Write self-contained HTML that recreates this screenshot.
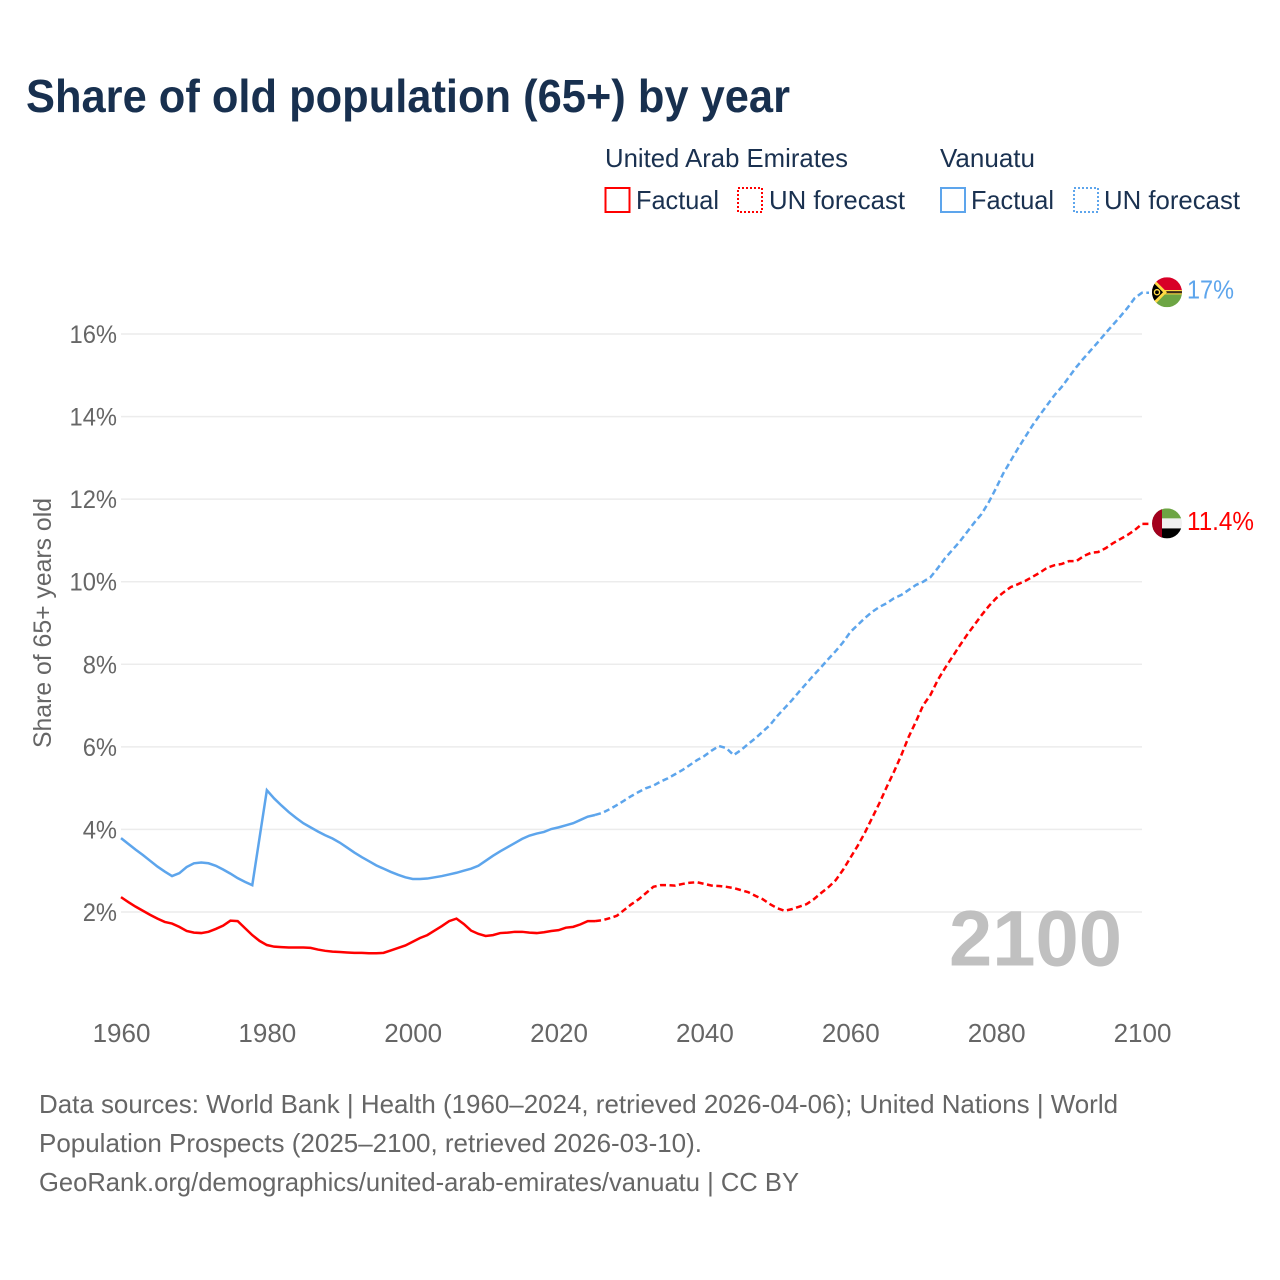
<!DOCTYPE html>
<html lang="en">
<head>
<meta charset="utf-8">
<title>Share of old population (65+) by year</title>
<style>
html,body{margin:0;padding:0;background:#fff;}
svg{display:block;font-family:"Liberation Sans",sans-serif;}
.tick{font-size:25px;fill:#666;}
.legend{font-size:26px;fill:#1a3150;}
.source{font-size:26px;fill:#666;}
</style>
</head>
<body>
<svg id="chart" width="1280" height="1280" viewBox="0 0 1280 1280" xmlns="http://www.w3.org/2000/svg">
  <defs>
    <clipPath id="flag-clip"><circle cx="0" cy="0" r="15"></circle></clipPath>
  </defs>
  <rect x="0" y="0" width="1280" height="1280" fill="#fff"></rect>

  <text x="26" y="112" font-size="46" font-weight="bold" fill="#18304f" textLength="764" lengthAdjust="spacingAndGlyphs">Share of old population (65+) by year</text>

  <g>
    <text class="legend" x="605" y="167" textLength="243" lengthAdjust="spacingAndGlyphs">United Arab Emirates</text>
    <text class="legend" x="940" y="167" textLength="95" lengthAdjust="spacingAndGlyphs">Vanuatu</text>

    <g>
      <rect x="605.5" y="188" width="24" height="24" fill="none" stroke="#ff0000" stroke-width="2"></rect>
      <text class="legend" x="636" y="209" textLength="83" lengthAdjust="spacingAndGlyphs">Factual</text>
    </g>
    <g>
      <rect x="738" y="188" width="24" height="24" fill="none" stroke="#ff0000" stroke-width="2" stroke-dasharray="2 2"></rect>
      <text class="legend" x="769" y="209" textLength="136" lengthAdjust="spacingAndGlyphs">UN forecast</text>
    </g>
    <g>
      <rect x="941" y="188" width="24" height="24" fill="none" stroke="#5da5ec" stroke-width="2"></rect>
      <text class="legend" x="971" y="209" textLength="83" lengthAdjust="spacingAndGlyphs">Factual</text>
    </g>
    <g>
      <rect x="1074" y="188" width="24" height="24" fill="none" stroke="#5da5ec" stroke-width="2" stroke-dasharray="2 2"></rect>
      <text class="legend" x="1104" y="209" textLength="136" lengthAdjust="spacingAndGlyphs">UN forecast</text>
    </g>
  </g>

  <text transform="translate(51,623) rotate(-90)" text-anchor="middle" font-size="25" fill="#666" textLength="250" lengthAdjust="spacingAndGlyphs">Share of 65+ years old</text>

  <g id="grid"></g>
  <g id="y-ticks"></g>
  <g id="x-ticks"></g>

  <text x="949" y="965.5" font-size="79" font-weight="bold" fill="#c0c0c0" textLength="173" lengthAdjust="spacingAndGlyphs">2100</text>

  <g id="series"></g>

  <g id="flag-vanuatu">
    <g clip-path="url(#flag-clip)">
      <rect x="-15" y="-15" width="30" height="15" fill="#d80027"></rect>
      <rect x="-15" y="0" width="30" height="15" fill="#6da544"></rect>
      <rect x="-15" y="-2.2" width="30" height="4.4" fill="#ffda44"></rect>
      <rect x="-15" y="-1.1" width="30" height="2.2" fill="#3a2a1a"></rect>
      <polygon points="-15,-15 0,0 -15,15" fill="#ffda44"></polygon>
      <polygon points="-15,-11 -4,0 -15,11" fill="#000"></polygon>
      <circle cx="-10" cy="0" r="2.6" fill="none" stroke="#ffda44" stroke-width="1.4"></circle>
    </g>
  </g>
  <g id="flag-uae">
    <g clip-path="url(#flag-clip)">
      <rect x="-15" y="-15" width="30" height="10" fill="#6da544"></rect>
      <rect x="-15" y="-5" width="30" height="10" fill="#f0f0f0"></rect>
      <rect x="-15" y="5" width="30" height="10" fill="#000"></rect>
      <rect x="-15" y="-15" width="10" height="30" fill="#a2001d"></rect>
    </g>
  </g>

  <text id="label-vanuatu" font-size="26" fill="#5da5ec" textLength="47" lengthAdjust="spacingAndGlyphs">17%</text>
  <text id="label-uae" font-size="26" fill="#ff0000" textLength="67" lengthAdjust="spacingAndGlyphs">11.4%</text>

  <g>
    <text class="source" x="39" y="1113" textLength="1079" lengthAdjust="spacingAndGlyphs">Data sources: World Bank | Health (1960–2024, retrieved 2026-04-06); United Nations | World</text>
    <text class="source" x="39" y="1152" textLength="663" lengthAdjust="spacingAndGlyphs">Population Prospects (2025–2100, retrieved 2026-03-10).</text>
    <text class="source" x="39" y="1191" textLength="760" lengthAdjust="spacingAndGlyphs">GeoRank.org/demographics/united-arab-emirates/vanuatu | CC BY</text>
  </g>
</svg>

<script>
var xTickLabels = ['1960','1980','2000','2020','2040','2060','2080','2100'];
var yTickLabels = ['2%','4%','6%','8%','10%','12%','14%','16%'];
var yTickValues = [2,4,6,8,10,12,14,16];
var firstYear = 1960;
var lastYear = 2100;
var lastFactualYear = 2025;
var endValueVanuatu = 17;
var endValueUae = 11.4;

var uaeValues = [
2.36,2.24,2.13,2.03,1.93,1.84,1.76,1.72,1.64,1.54,
1.50,1.49,1.52,1.59,1.67,1.79,1.78,1.61,1.44,1.30,
1.20,1.16,1.15,1.14,1.14,1.14,1.13,1.09,1.06,1.04,
1.03,1.02,1.01,1.01,1.00,1.00,1.01,1.07,1.13,1.19,
1.28,1.37,1.44,1.55,1.66,1.78,1.84,1.71,1.55,1.47,
1.42,1.44,1.49,1.50,1.52,1.52,1.50,1.49,1.51,1.54,
1.56,1.62,1.64,1.70,1.78,1.78,1.80,1.85,1.91,2.05,
2.19,2.31,2.46,2.61,2.65,2.65,2.64,2.68,2.71,2.72,
2.68,2.64,2.63,2.61,2.58,2.53,2.48,2.39,2.31,2.19,
2.09,2.03,2.07,2.13,2.19,2.31,2.46,2.60,2.77,3.02,
3.31,3.60,3.92,4.28,4.64,5.03,5.40,5.80,6.24,6.61,
7.01,7.26,7.62,7.91,8.18,8.45,8.71,8.95,9.19,9.41,
9.60,9.74,9.87,9.94,10.02,10.12,10.22,10.34,10.40,10.43,
10.50,10.50,10.62,10.70,10.72,10.81,10.93,11.03,11.13,11.25,
11.40
];

var vanuatuValues = [
3.79,3.65,3.51,3.38,3.24,3.10,2.98,2.87,2.94,3.09,
3.18,3.20,3.18,3.12,3.03,2.93,2.82,2.73,2.65,3.80,
4.95,4.75,4.58,4.42,4.28,4.15,4.05,3.95,3.86,3.78,
3.68,3.56,3.44,3.33,3.23,3.13,3.05,2.97,2.90,2.84,
2.80,2.80,2.81,2.84,2.87,2.91,2.95,3.00,3.05,3.12,
3.24,3.36,3.47,3.57,3.67,3.77,3.85,3.90,3.94,4.01,
4.05,4.10,4.15,4.23,4.31,4.35,4.40,4.49,4.59,4.70,
4.81,4.91,5.00,5.06,5.16,5.24,5.34,5.44,5.56,5.68,
5.78,5.91,6.02,5.97,5.80,5.92,6.07,6.21,6.37,6.53,
6.75,6.94,7.13,7.34,7.54,7.74,7.93,8.13,8.32,8.53,
8.78,8.95,9.12,9.27,9.39,9.48,9.60,9.68,9.80,9.92,
10.00,10.11,10.33,10.57,10.77,10.97,11.20,11.43,11.64,11.93,
12.27,12.63,12.93,13.23,13.51,13.79,14.04,14.28,14.52,14.72,
14.96,15.20,15.41,15.61,15.81,16.02,16.22,16.42,16.63,16.87,
17.00
];

var SVG_NS = 'http://www.w3.org/2000/svg';

function xScale(year) {
  return 121 + (year - 1960) * (1142 - 121) / 140;
}
function yScale(value) {
  return 912 - (value - 2) * (912 - 334) / 14;
}
function make(tag, parent) {
  var el = document.createElementNS(SVG_NS, tag);
  parent.appendChild(el);
  return el;
}
function linePath(values, fromYear, toYear) {
  var d = '';
  for (var year = fromYear; year <= toYear; year++) {
    var v = values[year - firstYear];
    d += (d ? 'L' : 'M') + xScale(year).toFixed(2) + ' ' + yScale(v).toFixed(2);
  }
  return d;
}

var gridGroup = document.getElementById('grid');
var yTickGroup = document.getElementById('y-ticks');
yTickValues.forEach(function (value, i) {
  var line = make('line', gridGroup);
  
  
  line.setAttribute('x1', xScale(firstYear));
  line.setAttribute('x2', xScale(lastYear));
  line.setAttribute('y1', yScale(value));
  line.setAttribute('y2', yScale(value));
  line.setAttribute('stroke', '#ececec');
  line.setAttribute('stroke-width', '1.5');

  var label = make('text', yTickGroup);
  
  
  label.setAttribute('class', 'tick');
  label.setAttribute('x', 117);
  label.setAttribute('y', yScale(value) + 9);
  label.setAttribute('text-anchor', 'end');
  label.textContent = yTickLabels[i];
  label.setAttribute('textLength', (label.getComputedTextLength() * 0.95).toFixed(1));
  label.setAttribute('lengthAdjust', 'spacingAndGlyphs');
});

var xTickGroup = document.getElementById('x-ticks');
xTickLabels.forEach(function (text) {
  var label = make('text', xTickGroup);
  
  
  label.setAttribute('class', 'tick');
  label.setAttribute('x', xScale(Number(text)) + 0.5);
  label.setAttribute('y', 1042);
  label.setAttribute('text-anchor', 'middle');
  label.style.fontSize = '26px';
  label.textContent = text;
});

var seriesGroup = document.getElementById('series');

var uaeFactual = make('path', seriesGroup);


uaeFactual.setAttribute('d', linePath(uaeValues, firstYear, lastFactualYear));
uaeFactual.setAttribute('fill', 'none');
uaeFactual.setAttribute('stroke', '#ff0000');
uaeFactual.setAttribute('stroke-width', '2.5');

var uaeForecast = make('path', seriesGroup);


uaeForecast.setAttribute('d', linePath(uaeValues, lastFactualYear, lastYear) + 'h7');
uaeForecast.setAttribute('fill', 'none');
uaeForecast.setAttribute('stroke', '#ff0000');
uaeForecast.setAttribute('stroke-width', '2.5');
uaeForecast.setAttribute('stroke-dasharray', '6 3.5');

var vanuatuFactual = make('path', seriesGroup);


vanuatuFactual.setAttribute('d', linePath(vanuatuValues, firstYear, lastFactualYear));
vanuatuFactual.setAttribute('fill', 'none');
vanuatuFactual.setAttribute('stroke', '#5da5ec');
vanuatuFactual.setAttribute('stroke-width', '2.5');

var vanuatuForecast = make('path', seriesGroup);


vanuatuForecast.setAttribute('d', linePath(vanuatuValues, lastFactualYear, lastYear) + 'h7');
vanuatuForecast.setAttribute('fill', 'none');
vanuatuForecast.setAttribute('stroke', '#5da5ec');
vanuatuForecast.setAttribute('stroke-width', '2.5');
vanuatuForecast.setAttribute('stroke-dasharray', '6 3.5');

var endX = xScale(lastYear);
document.getElementById('flag-vanuatu').setAttribute('transform', 'translate(' + (endX + 25) + ',' + (yScale(endValueVanuatu) - 0.5) + ')');
document.getElementById('flag-uae').setAttribute('transform', 'translate(' + (endX + 25) + ',' + (yScale(endValueUae) - 0.5) + ')');

var labelVanuatu = document.getElementById('label-vanuatu');
labelVanuatu.setAttribute('x', endX + 45);
labelVanuatu.setAttribute('y', yScale(endValueVanuatu) + 6);
var labelUae = document.getElementById('label-uae');
labelUae.setAttribute('x', endX + 45);
labelUae.setAttribute('y', yScale(endValueUae) + 6);
</script>
</body>
</html>
